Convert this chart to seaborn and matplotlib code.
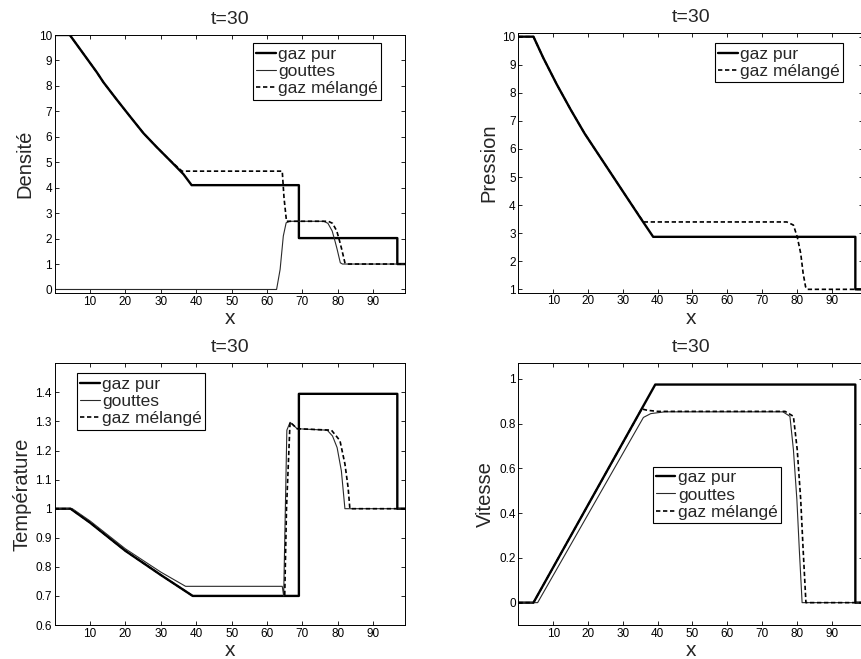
import matplotlib
matplotlib.use("Agg")
import matplotlib.pyplot as plt
import seaborn as sns

# ---------------- data ----------------
title_text = "t=30"
labels = ["gaz pur", "gouttes", "gaz mélangé"]
x_ticks = [10, 20, 30, 40, 50, 60, 70, 80, 90]

# Densité
dens_x_pur = [0, 4.3, 8.1, 11.9, 13.8, 17.5, 21.3, 25.1, 28.8, 32.6, 36.4, 38.7, 69.0, 69.0, 96.8, 96.8, 99]
dens_y_pur = [10, 10, 9.27, 8.54, 8.14, 7.47, 6.80, 6.14, 5.60, 5.07, 4.53, 4.10, 4.10, 2.02, 2.02, 1.0, 1.0]
dens_x_gou = [0, 62.7, 63.7, 64.6, 65.4, 66.5, 76.0, 77.2, 78.4, 79.2, 79.8, 80.7, 81.3, 99]
dens_y_gou = [0, 0, 0.79, 2.1, 2.62, 2.68, 2.68, 2.6, 2.3, 1.9, 1.58, 1.05, 1.0, 1.0]
dens_x_mel = [0, 4.3, 8.1, 11.9, 13.8, 17.5, 21.3, 25.1, 28.8, 32.6, 36.0, 64.3, 64.8, 65.5, 77.3, 78.5, 79.7, 80.5, 81.1, 82.0, 82.6, 99]
dens_y_mel = [10, 10, 9.27, 8.54, 8.14, 7.47, 6.80, 6.14, 5.60, 5.07, 4.65, 4.65, 3.6, 2.68, 2.68, 2.6, 2.3, 1.9, 1.58, 1.05, 1.0, 1.0]

# Pression
pres_x_pur = [0, 4.3, 7.1, 11.0, 15.0, 19.0, 23.0, 27.0, 31.0, 35.0, 38.7, 96.8, 96.8, 99]
pres_y_pur = [10, 10, 9.25, 8.3, 7.4, 6.55, 5.8, 5.05, 4.3, 3.55, 2.87, 2.87, 1.0, 1.0]
pres_x_mel = [0, 4.3, 7.1, 11.0, 15.0, 19.0, 23.0, 27.0, 31.0, 35.9, 77.1, 79.0, 80.1, 81.1, 81.8, 82.5, 83.0, 99]
pres_y_mel = [10, 10, 9.25, 8.3, 7.4, 6.55, 5.8, 5.05, 4.3, 3.40, 3.40, 3.29, 2.87, 2.28, 1.57, 1.09, 1.0, 1.0]

# Température
temp_x_pur = [0, 4.5, 10, 20, 30, 39, 69.0, 69.0, 96.8, 96.8, 99]
temp_y_pur = [1, 1, 0.952, 0.855, 0.772, 0.70, 0.70, 1.395, 1.395, 1.0, 1.0]
temp_x_gou = [0, 5.0, 10, 20, 30, 37, 64.3, 64.7, 65.6, 66.5, 67.2, 68.5, 77.0, 78.5, 79.8, 81.0, 82.0, 99]
temp_y_gou = [1, 1, 0.958, 0.862, 0.782, 0.733, 0.733, 0.70, 1.27, 1.297, 1.29, 1.275, 1.27, 1.25, 1.21, 1.13, 1.0, 1.0]
temp_x_mel = [0, 4.5, 10, 20, 30, 39, 65.0, 65.5, 66.5, 67.2, 68.5, 78.2, 80.6, 82.0, 82.9, 83.4, 99]
temp_y_mel = [1, 1, 0.952, 0.855, 0.772, 0.70, 0.70, 1.0, 1.297, 1.29, 1.275, 1.27, 1.234, 1.154, 1.073, 1.0, 1.0]

# Vitesse
vit_x_pur = [0, 4.3, 39.3, 96.8, 96.8, 99]
vit_y_pur = [0, 0, 0.975, 0.975, 0, 0]
vit_x_gou = [0, 5.5, 35.9, 38.0, 42.0, 76.0, 78.0, 79.0, 80.0, 80.7, 81.5, 99]
vit_y_gou = [0, 0, 0.828, 0.845, 0.853, 0.853, 0.833, 0.684, 0.46, 0.236, 0, 0]
vit_x_mel = [0, 4.3, 35.4, 37.0, 40.0, 76.6, 79.0, 80.1, 81.1, 81.8, 82.6, 99]
vit_y_mel = [0, 0, 0.866, 0.86, 0.855, 0.855, 0.833, 0.684, 0.46, 0.236, 0, 0]

# ---------------- style ----------------
sns.set_style("ticks")
plt.rcParams["font.family"] = ["Liberation Sans", "DejaVu Sans"]
plt.rcParams["axes.linewidth"] = 0.7

W, H = 862, 659
fig = plt.figure(figsize=(W / 100, H / 100), dpi=100)

def fx(px):
    return px / W

def fy(py):
    return 1 - py / H

styles = {
    "gaz pur": dict(color="black", linewidth=1.7, linestyle="-"),
    "gouttes": dict(color="#2a2a2a", linewidth=0.8, linestyle="-"),
    "gaz mélangé": dict(color="black", linewidth=1.2, linestyle=(0, (2.6, 1.6))),
}

panels = [
    dict(box=(54.6, 35.0, 405.1, 293.3), ylabel="Densité", ylim=(-0.15, 10.0),
         yticks=list(range(0, 11)), yfmt=None,
         series=[(dens_x_pur, dens_y_pur, "gaz pur"),
                 (dens_x_gou, dens_y_gou, "gouttes"),
                 (dens_x_mel, dens_y_mel, "gaz mélangé")],
         leg=(253, 43)),
    dict(box=(518.5, 33.3, 863.0, 292.7), ylabel="Pression", ylim=(0.88, 10.12),
         yticks=list(range(1, 11)), yfmt=None,
         series=[(pres_x_pur, pres_y_pur, "gaz pur"),
                 (pres_x_mel, pres_y_mel, "gaz mélangé")],
         leg=(715, 43)),
    dict(box=(54.6, 363.3, 405.1, 625.0), ylabel="Température", ylim=(0.6, 1.5),
         yticks=[0.6, 0.7, 0.8, 0.9, 1.0, 1.1, 1.2, 1.3, 1.4], yfmt="g",
         series=[(temp_x_pur, temp_y_pur, "gaz pur"),
                 (temp_x_gou, temp_y_gou, "gouttes"),
                 (temp_x_mel, temp_y_mel, "gaz mélangé")],
         leg=(77, 373)),
    dict(box=(518.5, 363.3, 863.0, 625.0), ylabel="Vitesse", ylim=(-0.1, 1.07),
         yticks=[0, 0.2, 0.4, 0.6, 0.8, 1.0], yfmt="g",
         series=[(vit_x_pur, vit_y_pur, "gaz pur"),
                 (vit_x_gou, vit_y_gou, "gouttes"),
                 (vit_x_mel, vit_y_mel, "gaz mélangé")],
         leg=(652.7, 466.7)),
]

for p in panels:
    x0, y0, x1, y1 = p["box"]
    ax = fig.add_axes([fx(x0), fy(y1), (x1 - x0) / W, (y1 - y0) / H])
    for xs, ys, lab in p["series"]:
        sns.lineplot(x=xs, y=ys, ax=ax, sort=False, estimator=None,
                     label=lab, **styles[lab])
    ax.set_xlim(0, 99)
    ax.set_ylim(*p["ylim"])
    ax.set_xticks(x_ticks)
    ax.set_yticks(p["yticks"])
    if p["yfmt"]:
        ax.set_yticklabels([format(v, "g") for v in p["yticks"]])
    ax.tick_params(direction="in", length=3, width=0.6, top=True, right=True,
                   labelsize=8.5, pad=2, colors="black")
    for s in ax.spines.values():
        s.set_color("black")
        s.set_linewidth(0.7)
    ax.set_title(title_text, fontsize=14, pad=8)
    ax.set_xlabel("x", fontsize=15, labelpad=1)
    ax.set_ylabel(p["ylabel"], fontsize=14.5, labelpad=3)
    lx, ly = p["leg"]
    leg = ax.legend(loc="upper left", bbox_to_anchor=(fx(lx), fy(ly)),
                    bbox_transform=fig.transFigure, borderaxespad=0,
                    fontsize=12.5, frameon=True, fancybox=False, framealpha=1,
                    edgecolor="black", handlelength=1.1, handletextpad=0.15,
                    borderpad=0.2, labelspacing=0.12)
    leg.get_frame().set_linewidth(0.8)

fig.savefig("out.png", dpi=100)
